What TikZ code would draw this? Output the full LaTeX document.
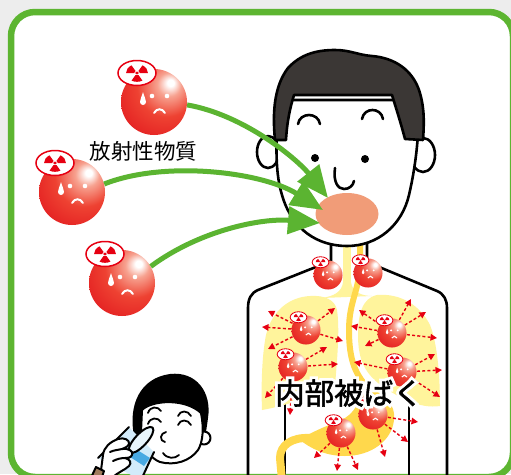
\documentclass[tikz,border=0pt]{standalone}
\usepackage{fontspec}
\newfontfamily\jpfont{Noto Sans CJK JP}
\newfontfamily\jpbold[FakeBold=1.8]{Noto Sans CJK JP}
% a heavily emboldened face, set in white as a halo behind the label
\newfontfamily\jphalo[FakeBold=21]{Noto Sans CJK JP}
\usetikzlibrary{arrows.meta,shapes.geometric}

\definecolor{framegreen}{HTML}{5DB531}
\definecolor{arrowgreen}{HTML}{5BB431}
\definecolor{bggray}{HTML}{EDEDED}
\definecolor{balledge}{HTML}{DF101A}
\definecolor{ballmid}{HTML}{EE4232}
\definecolor{ballhi}{HTML}{F7A290}
\definecolor{haircol}{HTML}{3B3735}
\definecolor{mouthcol}{HTML}{F19C78}
\definecolor{lungcol}{HTML}{FFF49C}
\definecolor{gutcol}{HTML}{FFD84C}
\definecolor{alertred}{HTML}{E60012}
\definecolor{glasscol}{HTML}{D2EBFA}
\definecolor{watercol}{HTML}{49A9E2}
\definecolor{sleevecol}{HTML}{A07C5C}

\pgfdeclareradialshading{redball}{\pgfpoint{13bp}{15bp}}{%
  color(0bp)=(white); color(2.5bp)=(white); color(9bp)=(ballhi);
  color(22bp)=(ballmid); color(46bp)=(balledge); color(80bp)=(balledge)}

\tikzset{
  % a radioactive particle: shaded ball, worried face, warning badge
  particle/.pic={
    \shade[shading=redball] (0,0) circle (33);
    \fill[white] (-11,-10) .. controls (-12,-6) and (-14,-3) .. (-14,0)
      arc[start angle=180,end angle=0,radius=3]
      .. controls (-8,-3) and (-10,-6) .. cycle;
    \fill[white] (-2,-6) circle (2.3) (13,-6) circle (2.3);
    \draw[white, line width=2*#1, line cap=round]
      (0,11) .. controls (3,6) and (8,6) .. (11,11);
    \begin{scope}[shift={(-17,-29)}]
      \draw[alertred, fill=white, line width=1.5*#1] (0,0) ellipse (19 and 12.5);
      \begin{scope}[xscale=1.12, yscale=0.9]
        \foreach \a in {90,210,330}{
          \fill[alertred] ({\a-30}:2.6) arc[start angle=\a-30,end angle=\a+30,radius=2.6]
            -- ({\a+30}:9.8) arc[start angle=\a+30,end angle=\a-30,radius=9.8] -- cycle;}
        \fill[alertred] (0,0) circle (1.7);
      \end{scope}
    \end{scope}
  },
  outline/.style={draw=black, line width=2.6pt, line join=round, line cap=round},
  thinline/.style={draw=black, line width=2pt, line join=round, line cap=round},
  ray/.style={alertred, line width=1.4pt, dash pattern=on 3pt off 2.2pt,
    -{Triangle[length=6.5pt,width=6.5pt]}, shorten <=15pt},
  inflow/.style={arrowgreen, line width=5pt, -{Triangle[length=32pt,width=27pt]}},
}

\begin{document}
\begin{tikzpicture}[x=1pt,y=-1pt]
\useasboundingbox (0,0) rectangle (511,474);
\clip (0,0) rectangle (511,474);

% backdrop and green frame
\fill[bggray] (0,0) rectangle (511,474);
\draw[framegreen, line width=6.5pt, fill=white, rounded corners=24] (11,12) rectangle (513,477);

% ---------- body ----------
\draw[outline] (331,240) -- (331,261) -- (258,290) .. controls (251,293) and (248,299) .. (248,308) -- (248,480);
\draw[outline] (367,240) -- (367,262) -- (437,291) .. controls (444,294) and (447,300) .. (447,308) -- (447,480);
\draw[outline] (285,398) -- (285,480);
\draw[outline] (409,398) -- (409,480);

% lungs
\fill[lungcol] (310,296) .. controls (290,297) and (272,310) .. (266,335)
  .. controls (262,355) and (261,385) .. (262,410)
  .. controls (285,406) and (315,396) .. (335,386)
  .. controls (337,360) and (340,330) .. (337,310)
  .. controls (335,300) and (325,295) .. cycle;
\fill[lungcol] (377,295) .. controls (400,293) and (420,305) .. (430,325)
  .. controls (438,345) and (440,380) .. (440,406)
  .. controls (420,409) and (400,398) .. (385,388)
  .. controls (365,375) and (358,360) .. (358,335)
  .. controls (358,315) and (362,298) .. cycle;
% trachea
\draw[lungcol, line width=8pt] (347,238) -- (347,286);
\fill[lungcol] (343,282) -- (351,282) .. controls (352,292) and (362,296) .. (372,296)
  -- (322,298) .. controls (334,296) and (342,292) .. cycle;

% esophagus, stomach, duodenum
\draw[gutcol, line width=6pt] (360,238) -- (360,262) .. controls (360,290) and (349,300) .. (349,330)
  .. controls (349,360) and (355,376) .. (372,392);
\fill[gutcol] (366,386) .. controls (385,393) and (396,405) .. (394,420)
  .. controls (392,440) and (372,456) .. (345,456)
  .. controls (325,456) and (310,448) .. (300,440)
  .. controls (310,432) and (330,425) .. (345,418)
  .. controls (358,410) and (360,396) .. cycle;
\draw[gutcol, line width=8pt] (310,438) .. controls (292,437) and (280,445) .. (280,458) -- (282,480);

% particles taken into the body
\coordinate (nL) at (328,275);
\coordinate (nR) at (368,273);
\coordinate (lLU) at (306,330);
\coordinate (lLL) at (293,367);
\coordinate (lRU) at (392,333);
\coordinate (lRL) at (402,372);
\coordinate (sU) at (373,415);
\coordinate (sL) at (341,433);

\foreach \e in {(268,311),(262,327),(268,349),(335,308),(343,341)} \draw[ray] (lLU) -- \e;
\foreach \e in {(327,347),(338,364),(265,398),(290,415)} \draw[ray] (lLL) -- \e;
\foreach \e in {(359,310),(351,326),(365,346),(411,299),(426,312),(437,338)} \draw[ray] (lRU) -- \e;
\foreach \e in {(354,362),(435,354),(442,370),(440,397)} \draw[ray] (lRL) -- \e;
\foreach \e in {(418,422),(408,442),(385,457)} \draw[ray] (sU) -- \e;
\foreach \e in {(314,458),(337,471),(358,470)} \draw[ray] (sL) -- \e;

\foreach \c in {nL,nR,lLU,lLL,lRU,lRL,sU,sL} \pic[scale=0.44] at (\c) {particle=0.55};

\node[font=\fontsize{29.5}{30}\selectfont, inner sep=0pt] (exposure) at (349,393)
  {\rlap{\jphalo\color{white}内部被ばく}\jpbold 内部被ばく};

% ---------- head ----------
\draw[outline, fill=white] (268,152) ellipse (11 and 16);
\draw[outline, fill=white] (423,155) ellipse (12 and 17);
\draw[outline, fill=white] (280,100) .. controls (276,130) and (274,170) .. (282,195)
  .. controls (292,230) and (318,246) .. (347,246)
  .. controls (378,246) and (402,225) .. (409,195)
  .. controls (416,165) and (420,130) .. (418,100) -- cycle;
\draw[outline, fill=haircol] (275,140) .. controls (272,110) and (275,85) .. (288,68)
  .. controls (300,55) and (315,50) .. (335,50)
  .. controls (350,50) and (358,55) .. (372,56)
  .. controls (395,58) and (412,70) .. (419,90)
  .. controls (425,108) and (424,125) .. (423,140)
  -- (405,139) .. controls (400,120) and (395,105) .. (392,95)
  -- (294,95) .. controls (290,108) and (287,122) .. (286,140) -- cycle;
\draw[outline] (298,124) .. controls (300,112) and (318,112) .. (320,124);
\draw[outline] (362,119) .. controls (364,107) and (381,107) .. (383,119);
\fill[black] (315,158) circle (4) (365,159) circle (4);
\draw[outline] (335,168) .. controls (333,182) and (338,189) .. (344,189)
  .. controls (349,189) and (353,186) .. (354,181);
\node[ellipse, fill=mouthcol, minimum width=63pt, minimum height=42pt, inner sep=0pt] (mouth) at (347,214) {};

% ---------- particles outside ----------
\node[circle, minimum size=66pt, inner sep=0pt] (pA) at (154,102) {};
\node[circle, minimum size=66pt, inner sep=0pt] (pB) at (72,192) {};
\node[circle, minimum size=66pt, inner sep=0pt] (pC) at (122,283) {};
\pic at (pA) {particle=1};
\pic at (pB) {particle=1};
\pic at (pC) {particle=1};
\node[font=\jpfont\fontsize{21.5}{22}\selectfont, inner sep=0pt] (substance) at (143.5,151.5) {放射性物質};

\coordinate (tA) at (328,198);
\coordinate (tB) at (323,210);
\coordinate (tC) at (320,223);
\draw[inflow] (pA.-5) .. controls (245,115) and (298,160) .. (tA);
\draw[inflow] (pB.14) .. controls (165,160) and (262,172) .. (tB);
\draw[inflow] (pC.30) .. controls (200,230) and (262,218) .. (tC);

% ---------- child drinking ----------
\fill[black] (134,436) .. controls (128,405) and (140,378) .. (170,374)
  .. controls (196,371) and (212,392) .. (208,418)
  .. controls (207,426) and (206,432) .. (205,436) -- cycle;
\draw[thinline, fill=white] (204,438) circle (6.5);
\draw[thinline, fill=white] (142,410) .. controls (152,400) and (185,398) .. (201,413)
  .. controls (204,428) and (203,442) .. (198,450)
  .. controls (190,461) and (175,466) .. (160,462)
  .. controls (150,458) and (143,448) .. (141,432) -- cycle;
\draw[thinline, line width=1.8pt] (148,413) .. controls (150,406) and (158,406) .. (161,411);
\draw[thinline, line width=1.8pt] (148,424) .. controls (150,417) and (158,417) .. (161,422);
\draw[thinline, line width=1.8pt] (178,416) .. controls (180,410) and (188,410) .. (191,416);
\draw[thinline, line width=1.8pt] (178,425) .. controls (180,419) and (188,419) .. (191,425);
\draw[thinline, line width=1.8pt] (166,432) .. controls (160,433) and (159,441) .. (165,442);
\draw[thinline, line width=1.8pt] (163,453) .. controls (167,459) and (175,459) .. (179,455);
% glass
\fill[glasscol] (129,427) -- (154,452) -- (141,480) -- (98,458) -- cycle;
\fill[watercol] (131,446) -- (150,458) -- (144,466) -- (124,453) -- cycle;
\draw[thinline] (129,427) -- (98,458);
\draw[thinline] (154,452) -- (141,480);
\draw[thinline, fill=glasscol!50!white, rotate around={47:(141,440)}] (141,440) ellipse (17 and 6);
% hand and sleeve
\draw[thinline, fill=white] (100,478) -- (103,455) .. controls (104,447) and (110,442) .. (118,439)
  .. controls (124,437) and (130,440) .. (129,444) .. controls (128,447) and (124,448) .. (122,449)
  .. controls (128,448) and (134,451) .. (132,455) .. controls (131,458) and (127,458) .. (125,458)
  .. controls (130,459) and (132,463) .. (129,466) .. controls (125,470) and (118,472) .. (112,478) -- cycle;
\draw[thinline] (110,452) .. controls (114,450) and (118,450) .. (122,449);
\draw[thinline] (113,461) .. controls (117,459) and (121,458) .. (125,458);
\draw[thinline, fill=sleevecol] (90,480) -- (96,467) -- (104,471) -- (101,480) -- cycle;
\end{tikzpicture}
\end{document}
